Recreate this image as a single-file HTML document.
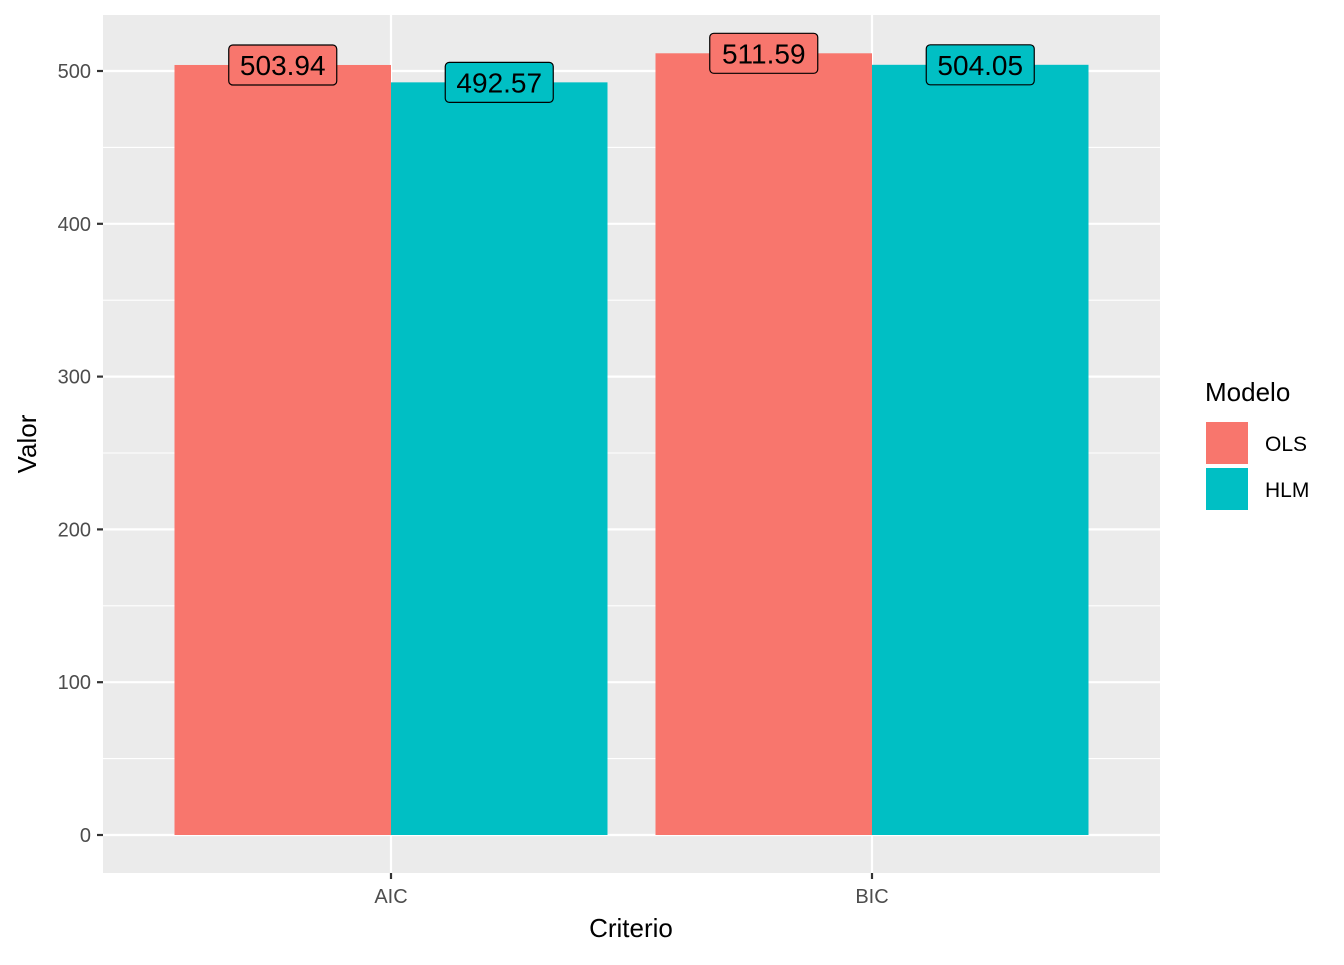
<!DOCTYPE html>
<html><head><meta charset="utf-8"><style>
body{margin:0;background:#fff;}
svg{font-family:"Liberation Sans",Arial,sans-serif;}
</style></head><body>
<svg id="chart" width="1344" height="960" xmlns="http://www.w3.org/2000/svg">
<rect x="0" y="0" width="1344" height="960" fill="#fff"/>
<rect x="103" y="15" width="1057" height="858" fill="#ebebeb"/>
<g id="grid"></g><g id="bars"></g><g id="labels"></g><g id="axes"></g>
<text x="631" y="937" font-size="26" text-anchor="middle" fill="#000">Criterio</text>
<text transform="translate(36,444) rotate(-90)" font-size="26" text-anchor="middle" fill="#000">Valor</text>
<g>
<text x="1205" y="401" font-size="26" fill="#000">Modelo</text>
<rect x="1206" y="422" width="42" height="42" fill="#f8766d"/>
<text x="1265" y="451" font-size="21" fill="#000">OLS</text>
<rect x="1206" y="468" width="42" height="42" fill="#00bfc4"/>
<text x="1265" y="497" font-size="21" fill="#000">HLM</text>
</g>
</svg>
<script>
const categories=["AIC","BIC"];
const seriesNames=["OLS","HLM"];
const olsValues=[503.94,511.59];
const hlmValues=[492.57,504.05];
const yTicks=[0,100,200,300,400,500];
const colors=["#f8766d","#00bfc4"];
const NS="http://www.w3.org/2000/svg";
const px0=103,px1=1160,py0=873,py1=15;
const yScale=v=>835-v*(764/500);
const xScale=i=>391+i*481;
const groupW=433;
function mk(tag,attrs,parent){const e=document.createElementNS(NS,tag);for(const k in attrs)e.setAttribute(k,attrs[k]);document.getElementById(parent).appendChild(e);return e;}
for(let i=0;i<yTicks.length;i++){
  const y=yScale(yTicks[i]);
  const g=mk("line",{x1:px0,x2:px1,y1:y,y2:y,stroke:"#fff","stroke-width":2.2},"grid");
  
  
  if(i<yTicks.length-1){
    const ym=yScale((yTicks[i]+yTicks[i+1])/2);
    const m=mk("line",{x1:px0,x2:px1,y1:ym,y2:ym,stroke:"#fff","stroke-width":1.1},"grid");
    
    
  }
  const t=mk("line",{x1:97,x2:103,y1:y,y2:y,stroke:"#333","stroke-width":2.2},"axes");
  
  
  const tl=mk("text",{x:91,y:y+7,"font-size":20,"text-anchor":"end",fill:"#4d4d4d"},"axes");
  tl.textContent=yTicks[i];
  
  
}
categories.forEach((c,i)=>{
  const x=xScale(i);
  const g=mk("line",{x1:x,x2:x,y1:py1,y2:py0,stroke:"#fff","stroke-width":2.2},"grid");
  
  
  const t=mk("line",{x1:x,x2:x,y1:873,y2:879,stroke:"#333","stroke-width":2.2},"axes");
  
  
  const tl=mk("text",{x:x,y:903,"font-size":20,"text-anchor":"middle",fill:"#4d4d4d"},"axes");
  tl.textContent=c;
  
  
});
const series=[olsValues,hlmValues];
series.forEach((vals,s)=>{
  vals.forEach((v,i)=>{
    const bw=groupW/2;
    const x=xScale(i)-groupW/2+s*bw;
    const y=yScale(v);
    const r=mk("rect",{x:x,y:y,width:bw,height:yScale(0)-y,fill:colors[s]},"bars");
    
    
    const cx=x+bw/2,w=108,h=40;
    const b=mk("rect",{x:cx-w/2,y:y-h/2,width:w,height:h,rx:4,fill:colors[s],stroke:"#000","stroke-width":1.2},"labels");
    
    
    const t=mk("text",{x:cx,y:y+10,"font-size":28,"text-anchor":"middle",fill:"#000"},"labels");
    t.textContent=v.toFixed(2);
    
    
  });
});
</script>
</body></html>
